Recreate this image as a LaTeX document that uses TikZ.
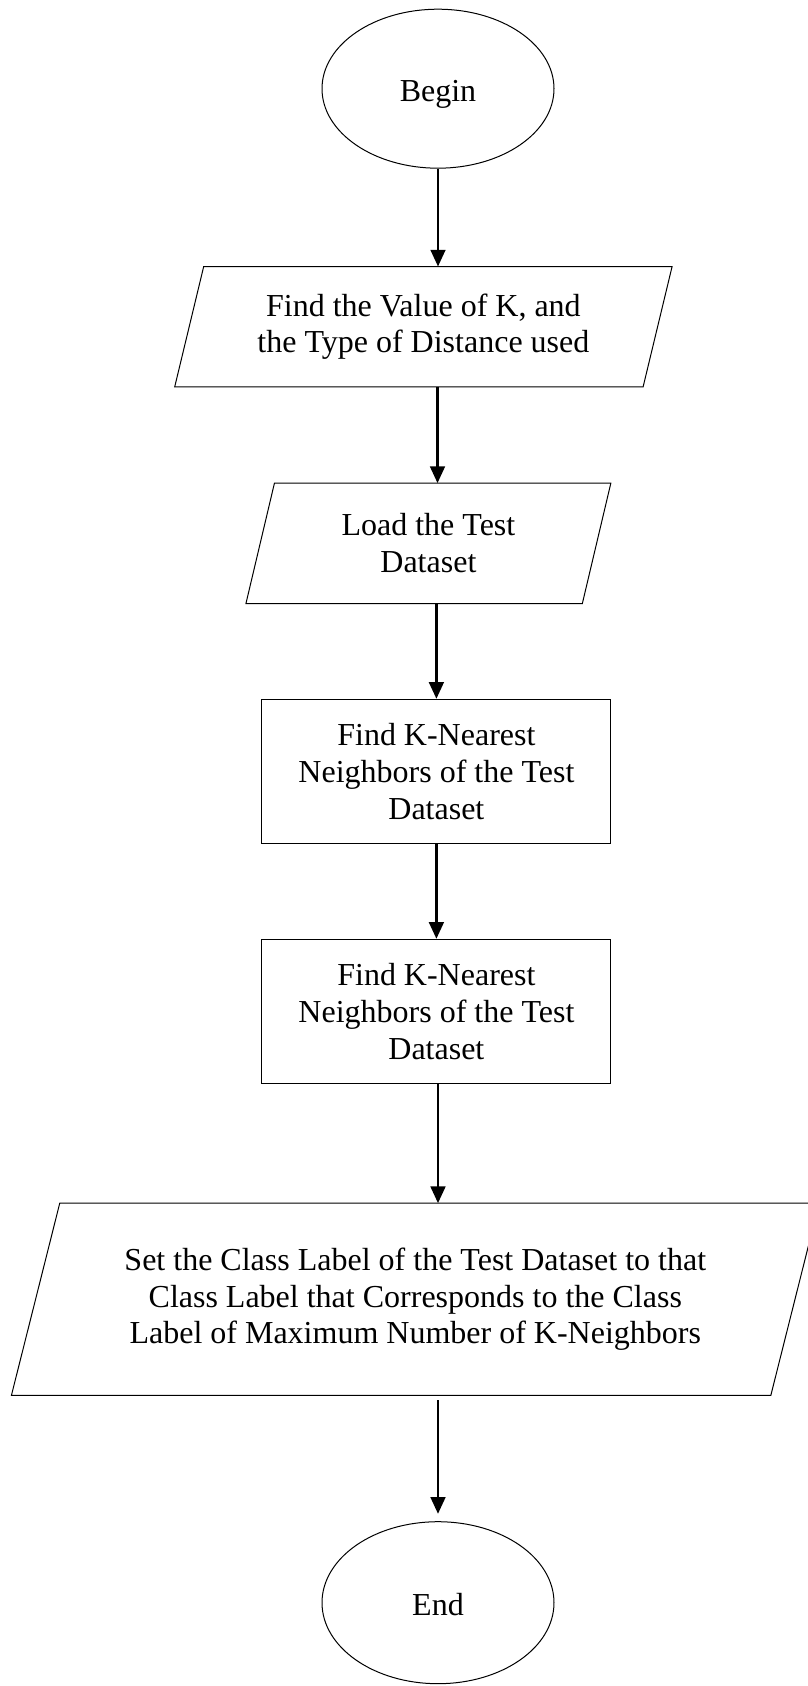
\documentclass[tikz,border=0pt]{standalone}
\usepackage{fontspec}
\setmainfont{Liberation Serif}
\usetikzlibrary{shapes.geometric,arrows.meta}

% outline of a slanted (input/output) box around a plain node
\newcommand{\drawslant}[2]{%
  \draw[shapeline] ([xshift=-#2/2]#1.south west) -- ([xshift=#2/2]#1.north west)
    -- ([xshift=#2/2]#1.north east) -- ([xshift=-#2/2]#1.south east) -- cycle;}

\tikzset{
  shapeline/.style={line width=1pt, draw=black},
  txt/.style={font=\fontsize{32}{36.8}\selectfont, align=center, inner sep=0pt},
  terminal/.style={txt, ellipse, shapeline, minimum width=232pt, text height=25pt, text depth=0pt},
  process/.style={txt, rectangle, shapeline, minimum width=349pt, minimum height=144pt},
  iobody/.style={txt, rectangle, draw=none},
  flow/.style={line width=2.5pt, -{Triangle[length=16.7pt,width=14.7pt]}}
}

\begin{document}
\begin{tikzpicture}[x=1pt, y=-1pt]
  \useasboundingbox (0,0) rectangle (808,1686);
  \fill[white] (0,0) rectangle (808,1686);
  \clip (0,0) rectangle (808,1686);

  \coordinate (axis) at (437.5,0);

  \node[terminal, minimum height=159pt] (begin) at (438,88.7) {Begin};

  \node[iobody, minimum width=468pt, minimum height=120pt] (p1) at (423.4,326.7)
    {Find the Value of K, and\\the Type of Distance used};
  \drawslant{p1}{29pt}

  \node[iobody, minimum width=336pt, minimum height=120pt] (p2) at (428.4,543.3)
    {Load the Test\\Dataset};
  \drawslant{p2}{28.5pt}

  \node[process] (k1) at (436.4,771.3)
    {Find K-Nearest\\Neighbors of the Test\\Dataset};

  \node[process] (k2) at (436.4,1011.3)
    {Find K-Nearest\\Neighbors of the Test\\Dataset};

  \node[iobody, minimum width=759pt, minimum height=191.7pt] (p3) at (415.3,1299.2)
    {Set the Class Label of the Test Dataset to that\\Class Label that Corresponds to the Class\\Label of Maximum Number of K-Neighbors};
  \drawslant{p3}{48.3pt}

  \node[terminal, minimum height=162pt] (end) at (438,1602.7) {End};

  \draw[flow] (begin.south) -- (begin.south |- p1.north);
  \draw[flow] (p1.south -| axis) -- (p2.north -| axis);
  \draw[flow] (p2.south -| k1) -- (k1.north);
  \draw[flow] (k1.south) -- (k2.north);
  \draw[flow] (k2.south -| end) -- (end |- p3.north);
  \draw[flow, shorten <=5pt, shorten >=7.4pt] (end |- p3.south) -- (end.north);
\end{tikzpicture}
\end{document}
